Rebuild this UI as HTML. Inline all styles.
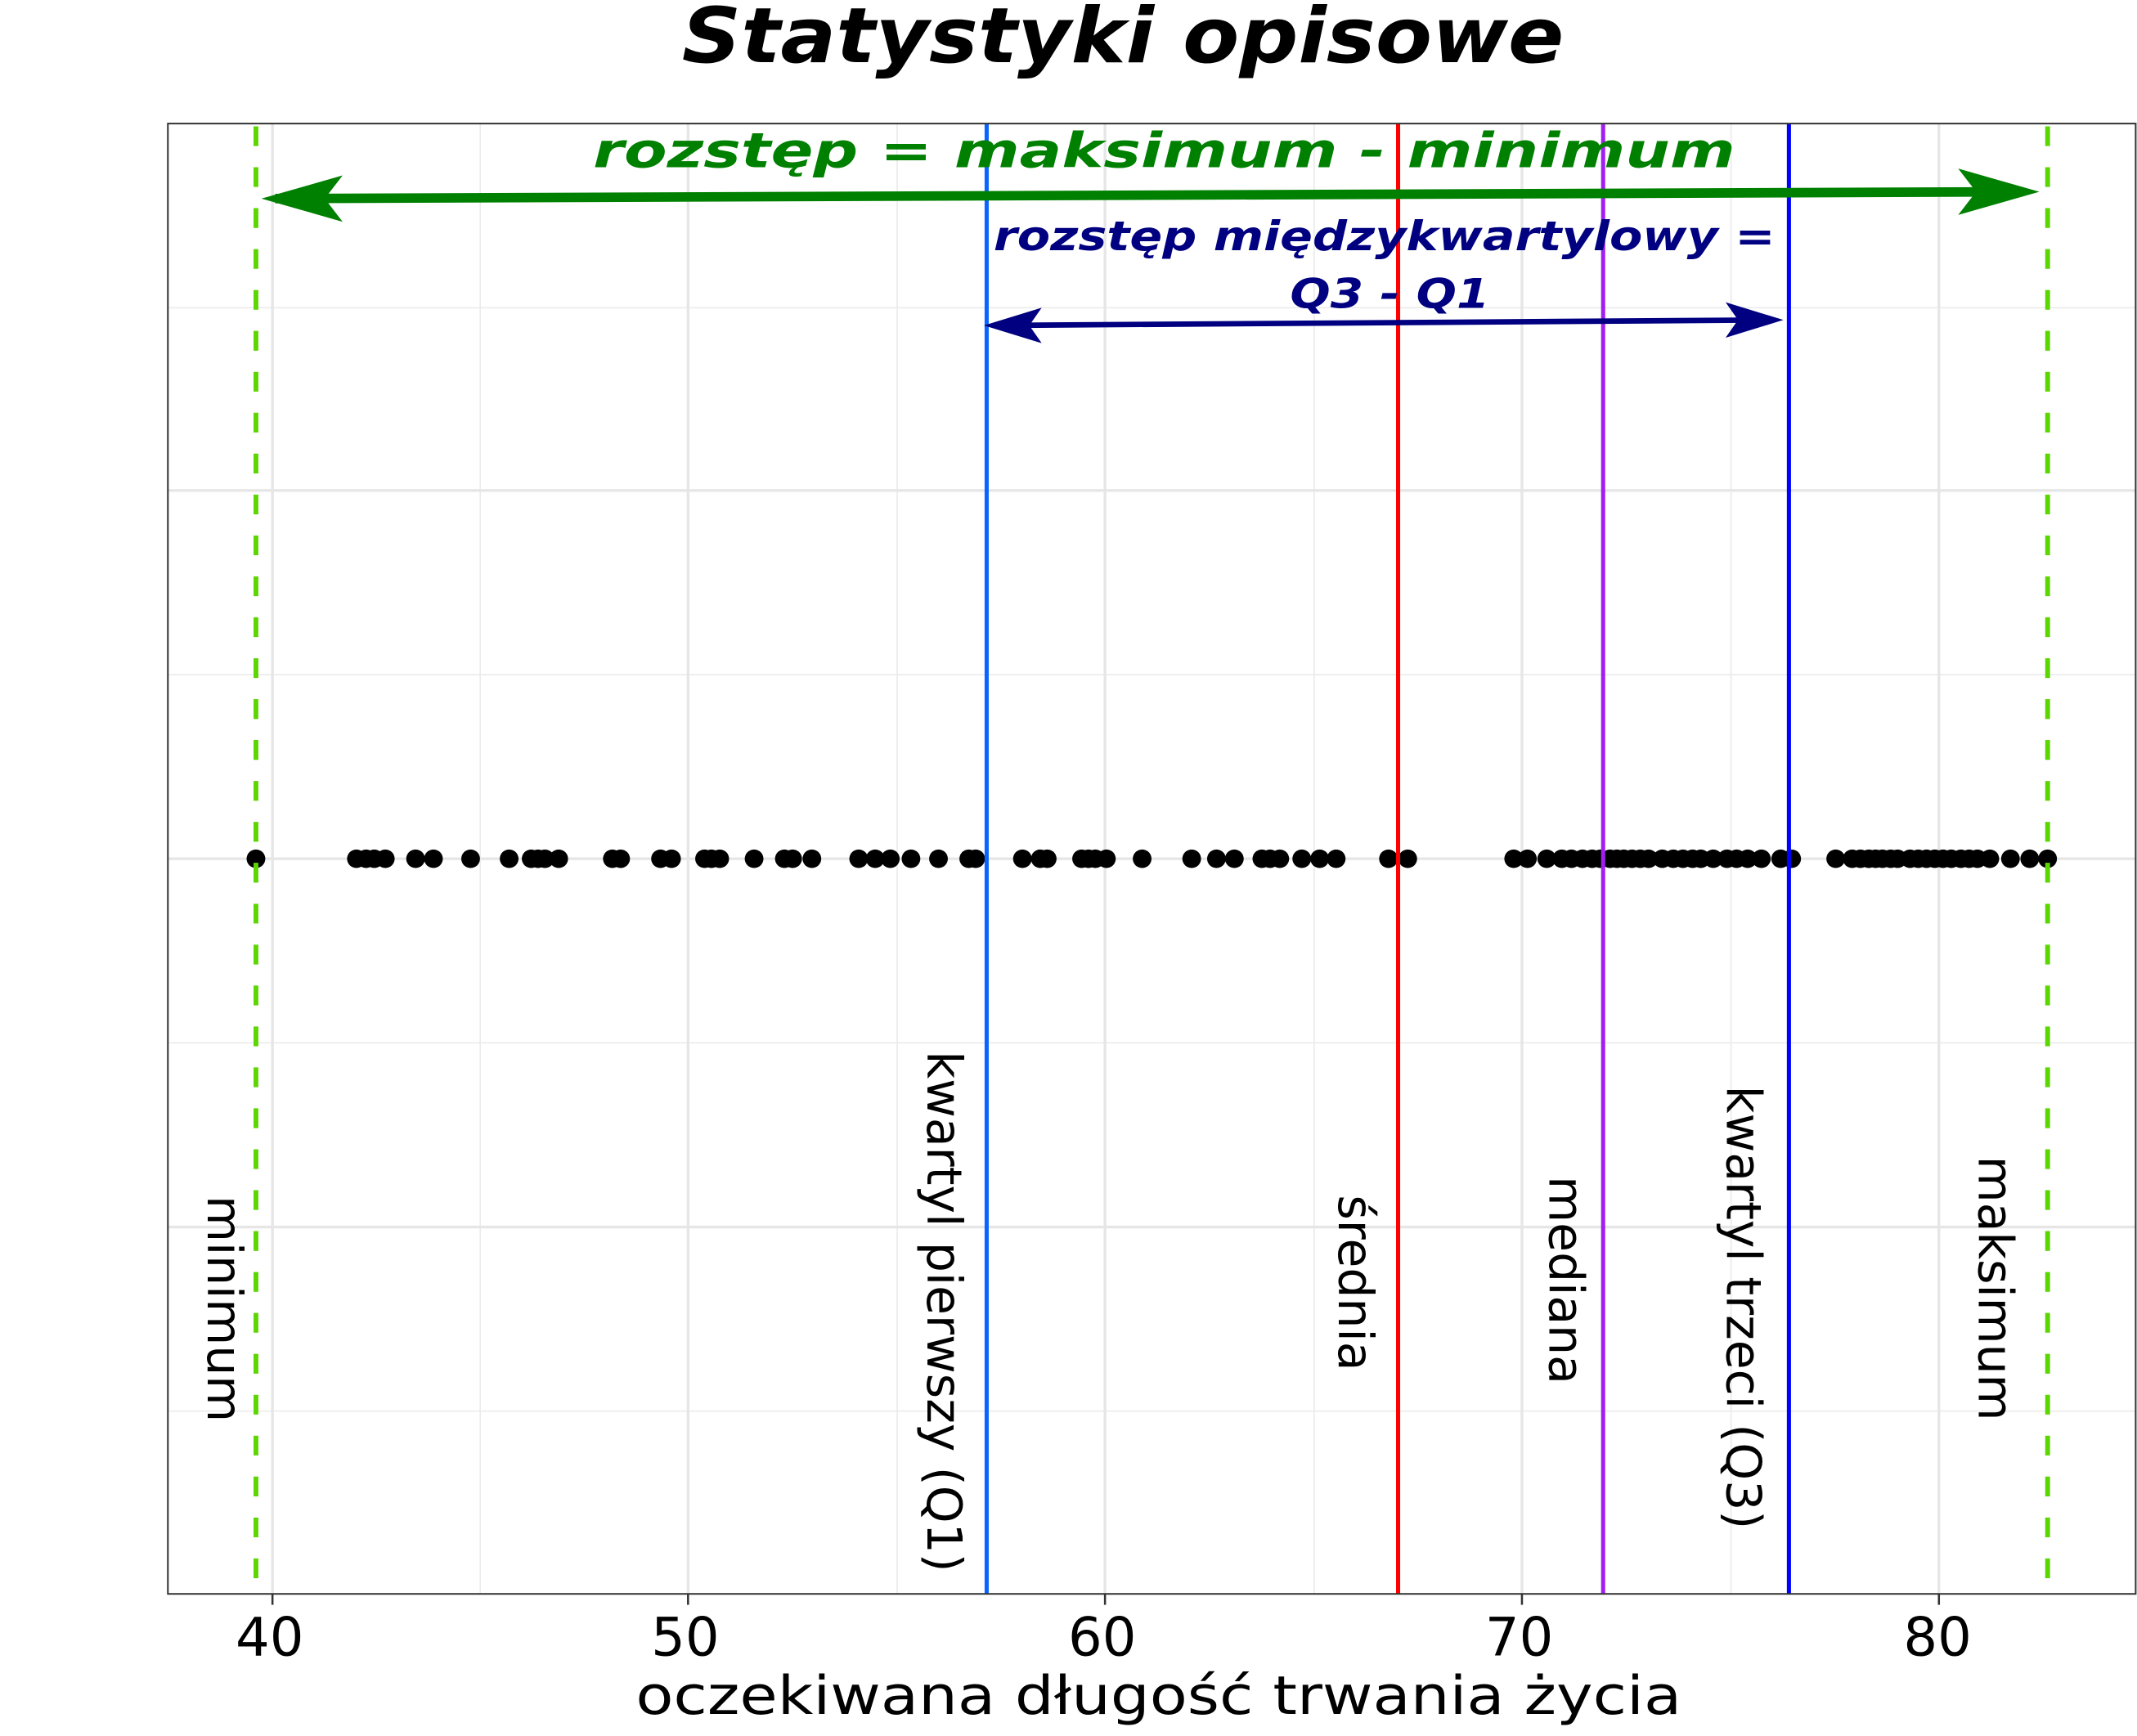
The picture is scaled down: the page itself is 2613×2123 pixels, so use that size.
<!DOCTYPE html>
<html><head><meta charset="utf-8">
<style>html,body{margin:0;padding:0;background:#fff}svg{display:block}</style>
</head><body>
<svg width="2613" height="2123" viewBox="0 0 2613 2123" xmlns="http://www.w3.org/2000/svg">
<rect width="2613" height="2123" fill="#fff"/>
<g transform="matrix(1.6826 0 0 1.668 0 1)" font-family="'DejaVu Sans','Liberation Sans',sans-serif">
<g stroke="#ebebeb" stroke-width="1">
<line x1="349" y1="90" x2="349" y2="1168"/><line x1="652" y1="90" x2="652" y2="1168"/>
<line x1="955" y1="90" x2="955" y2="1168"/><line x1="1258" y1="90" x2="1258" y2="1168"/>
<line x1="122" y1="225" x2="1552" y2="225"/><line x1="122" y1="494" x2="1552" y2="494"/>
<line x1="122" y1="764" x2="1552" y2="764"/><line x1="122" y1="1034" x2="1552" y2="1034"/>
</g>
<g stroke="#e6e6e6" stroke-width="2">
<line x1="198" y1="90" x2="198" y2="1168"/><line x1="500" y1="90" x2="500" y2="1168"/>
<line x1="803" y1="90" x2="803" y2="1168"/><line x1="1106" y1="90" x2="1106" y2="1168"/>
<line x1="1409" y1="90" x2="1409" y2="1168"/>
<line x1="122" y1="359" x2="1552" y2="359"/><line x1="122" y1="629" x2="1552" y2="629"/>
<line x1="122" y1="899" x2="1552" y2="899"/>
</g>
<g fill="#000">
<circle cx="186" cy="629" r="6.8"/>
<circle cx="259" cy="629" r="6.8"/><circle cx="266" cy="629" r="6.8"/><circle cx="272" cy="629" r="6.8"/><circle cx="280" cy="629" r="6.8"/>
<circle cx="302" cy="629" r="6.8"/><circle cx="315" cy="629" r="6.8"/><circle cx="342" cy="629" r="6.8"/><circle cx="370" cy="629" r="6.8"/>
<circle cx="386" cy="629" r="6.8"/><circle cx="391" cy="629" r="6.8"/><circle cx="396" cy="629" r="6.8"/><circle cx="406" cy="629" r="6.8"/>
<circle cx="445" cy="629" r="6.8"/><circle cx="451" cy="629" r="6.8"/><circle cx="480" cy="629" r="6.8"/><circle cx="488" cy="629" r="6.8"/>
<circle cx="512" cy="629" r="6.8"/><circle cx="517" cy="629" r="6.8"/><circle cx="523" cy="629" r="6.8"/><circle cx="548" cy="629" r="6.8"/>
<circle cx="570" cy="629" r="6.8"/><circle cx="576" cy="629" r="6.8"/><circle cx="590" cy="629" r="6.8"/>
<circle cx="624" cy="629" r="6.8"/><circle cx="636" cy="629" r="6.8"/><circle cx="647" cy="629" r="6.8"/><circle cx="662" cy="629" r="6.8"/>
<circle cx="682" cy="629" r="6.8"/><circle cx="704" cy="629" r="6.8"/><circle cx="709" cy="629" r="6.8"/>
<circle cx="743" cy="629" r="6.8"/><circle cx="756" cy="629" r="6.8"/><circle cx="761" cy="629" r="6.8"/>
<circle cx="786" cy="629" r="6.8"/><circle cx="791" cy="629" r="6.8"/><circle cx="796" cy="629" r="6.8"/><circle cx="804" cy="629" r="6.8"/>
<circle cx="830" cy="629" r="6.8"/><circle cx="866" cy="629" r="6.8"/><circle cx="884" cy="629" r="6.8"/><circle cx="897" cy="629" r="6.8"/>
<circle cx="917" cy="629" r="6.8"/><circle cx="923" cy="629" r="6.8"/><circle cx="930" cy="629" r="6.8"/><circle cx="946" cy="629" r="6.8"/>
<circle cx="959" cy="629" r="6.8"/><circle cx="971" cy="629" r="6.8"/><circle cx="1009" cy="629" r="6.8"/><circle cx="1023" cy="629" r="6.8"/>
<circle cx="1100" cy="629" r="6.8"/><circle cx="1110" cy="629" r="6.8"/><circle cx="1124" cy="629" r="6.8"/><circle cx="1135" cy="629" r="6.8"/>
<circle cx="1142" cy="629" r="6.8"/><circle cx="1150" cy="629" r="6.8"/><circle cx="1157" cy="629" r="6.8"/><circle cx="1163" cy="629" r="6.8"/>
<circle cx="1170" cy="629" r="6.8"/><circle cx="1175" cy="629" r="6.8"/><circle cx="1180" cy="629" r="6.8"/><circle cx="1186" cy="629" r="6.8"/>
<circle cx="1192" cy="629" r="6.8"/><circle cx="1198" cy="629" r="6.8"/><circle cx="1208" cy="629" r="6.8"/><circle cx="1216" cy="629" r="6.8"/>
<circle cx="1223" cy="629" r="6.8"/><circle cx="1230" cy="629" r="6.8"/><circle cx="1236" cy="629" r="6.8"/><circle cx="1245" cy="629" r="6.8"/>
<circle cx="1255" cy="629" r="6.8"/><circle cx="1262" cy="629" r="6.8"/><circle cx="1270" cy="629" r="6.8"/><circle cx="1280" cy="629" r="6.8"/>
<circle cx="1294" cy="629" r="6.8"/><circle cx="1302" cy="629" r="6.8"/>
<circle cx="1334" cy="629" r="6.8"/><circle cx="1346" cy="629" r="6.8"/><circle cx="1352" cy="629" r="6.8"/><circle cx="1358" cy="629" r="6.8"/>
<circle cx="1363" cy="629" r="6.8"/><circle cx="1368" cy="629" r="6.8"/><circle cx="1374" cy="629" r="6.8"/><circle cx="1379" cy="629" r="6.8"/>
<circle cx="1388" cy="629" r="6.8"/><circle cx="1394" cy="629" r="6.8"/><circle cx="1400" cy="629" r="6.8"/><circle cx="1406" cy="629" r="6.8"/>
<circle cx="1412" cy="629" r="6.8"/><circle cx="1418" cy="629" r="6.8"/><circle cx="1425" cy="629" r="6.8"/><circle cx="1431" cy="629" r="6.8"/>
<circle cx="1437" cy="629" r="6.8"/><circle cx="1446" cy="629" r="6.8"/><circle cx="1461" cy="629" r="6.8"/><circle cx="1475" cy="629" r="6.8"/>
<circle cx="1488" cy="629" r="6.8"/>
</g>
<line x1="186" y1="92" x2="186" y2="1168" stroke="#5cd600" stroke-width="3.5" stroke-dasharray="14.5 15.5"/>
<line x1="1488" y1="92" x2="1488" y2="1168" stroke="#5cd600" stroke-width="3.5" stroke-dasharray="14.5 15.5"/>
<line x1="717" y1="90" x2="717" y2="1168" stroke="#0a64ff" stroke-width="3"/>
<line x1="1016" y1="90" x2="1016" y2="1168" stroke="#ff0000" stroke-width="3"/>
<line x1="1165" y1="90" x2="1165" y2="1168" stroke="#a020f0" stroke-width="3"/>
<line x1="1300" y1="90" x2="1300" y2="1168" stroke="#0000ff" stroke-width="3"/>
<line x1="200" y1="145" x2="1470" y2="140" stroke="#008000" stroke-width="7"/>
<polygon points="190,145 249,128 236,145 249,162" fill="#008000"/>
<polygon points="1482,140 1423,123 1436,140 1423,157" fill="#008000"/>
<line x1="725" y1="238" x2="1285" y2="234" stroke="#000080" stroke-width="4"/>
<polygon points="715,238 757,225 748,238 757,251" fill="#000080"/>
<polygon points="1296,234 1254,221 1263,234 1254,247" fill="#000080"/>
<text x="846" y="122" font-size="35" font-weight="bold" font-style="italic" fill="#008000" text-anchor="middle" textLength="830" lengthAdjust="spacingAndGlyphs">rozstęp = maksimum - minimum</text>
<text x="1006" y="183" font-size="30" font-weight="bold" font-style="italic" fill="#000080" text-anchor="middle" textLength="568" lengthAdjust="spacingAndGlyphs">rozstęp międzykwartylowy =</text>
<text x="1010" y="225" font-size="30" font-weight="bold" font-style="italic" fill="#000080" text-anchor="middle" textLength="145" lengthAdjust="spacingAndGlyphs">Q3 - Q1</text>
<g font-size="35" fill="#000" text-anchor="middle">
<text transform="translate(151,959) rotate(90)">minimum</text>
<text transform="translate(674,961) rotate(90)">kwartyl pierwszy (Q1)</text>
<text transform="translate(973,940) rotate(90)">średnia</text>
<text transform="translate(1126,938) rotate(90)">mediana</text>
<text transform="translate(1255,958) rotate(90)">kwartyl trzeci (Q3)</text>
<text transform="translate(1438,944) rotate(90)">maksimum</text>
</g>
<rect x="122" y="90" width="1430" height="1078" fill="none" stroke="#333" stroke-width="1.2"/>
<g stroke="#333" stroke-width="1.5">
<line x1="198" y1="1168" x2="198" y2="1176"/><line x1="500" y1="1168" x2="500" y2="1176"/>
<line x1="803" y1="1168" x2="803" y2="1176"/><line x1="1106" y1="1168" x2="1106" y2="1176"/>
<line x1="1409" y1="1168" x2="1409" y2="1176"/>
</g>
<g font-size="39" fill="#000" text-anchor="middle">
<text x="196" y="1213">40</text><text x="498" y="1213">50</text><text x="801" y="1213">60</text>
<text x="1104" y="1213">70</text><text x="1408" y="1213">80</text>
</g>
<text x="842" y="1256" font-size="39" fill="#000" text-anchor="middle" textLength="760" lengthAdjust="spacingAndGlyphs">oczekiwana długość trwania życia</text>
<text x="816" y="45" font-size="56" font-weight="bold" font-style="italic" fill="#000" text-anchor="middle" textLength="641" lengthAdjust="spacingAndGlyphs">Statystyki opisowe</text>
</g>
</svg>
</body></html>
